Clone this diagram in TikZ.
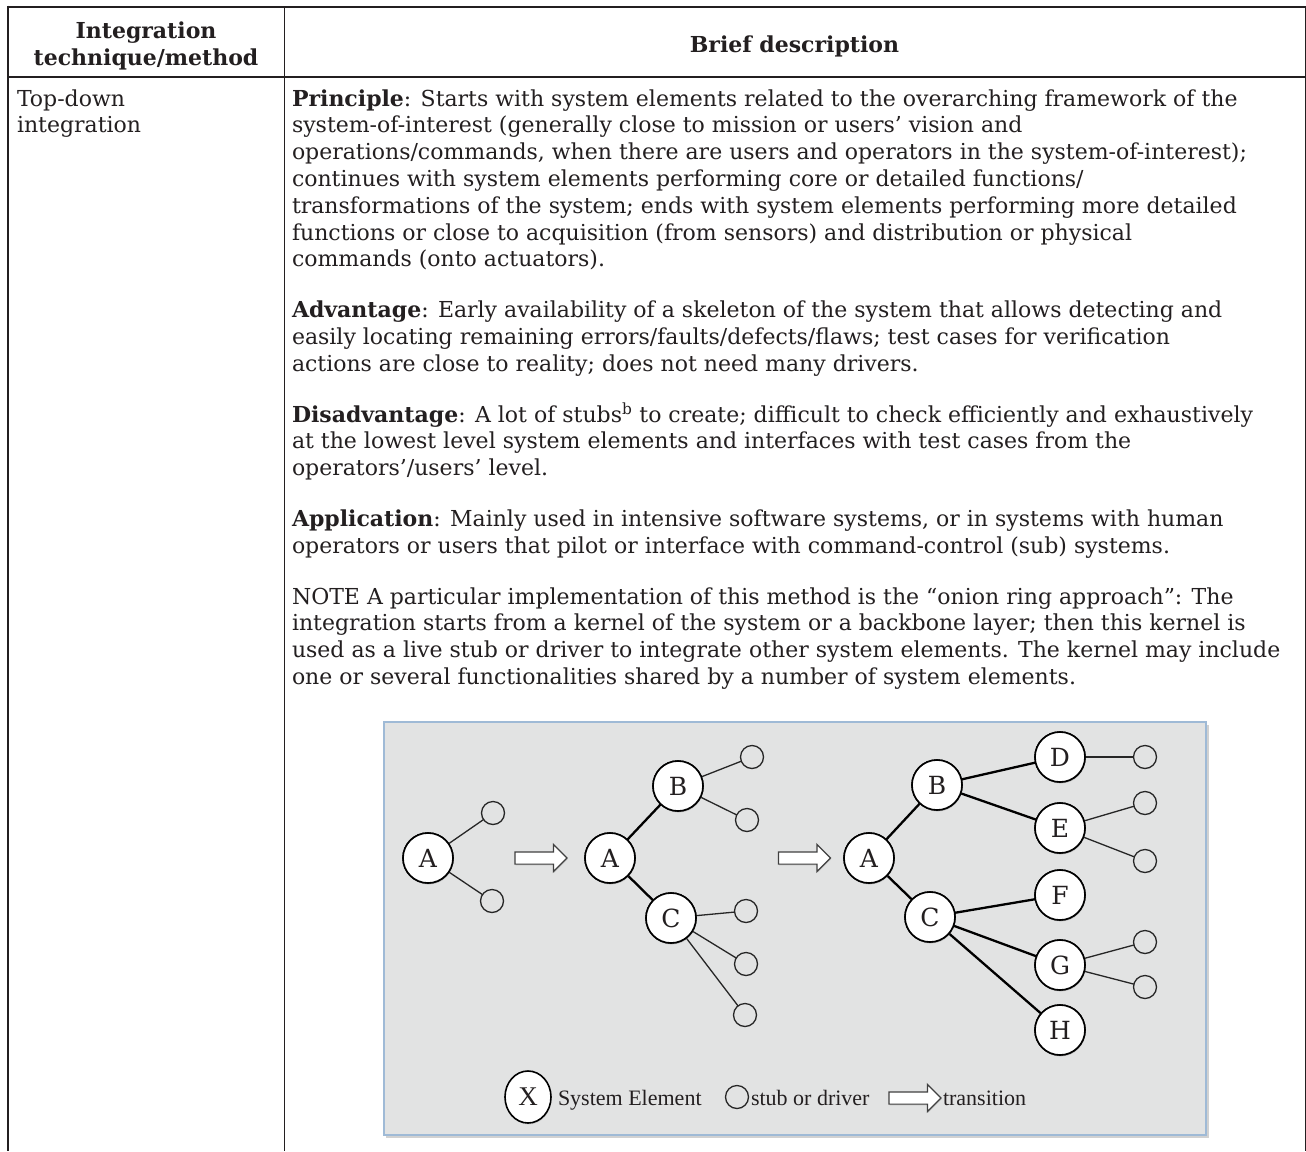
\documentclass[tikz,border=0pt]{standalone}
\usepackage{fontspec}
\setmainfont{DejaVu Serif}
\newfontfamily\lsfont{Liberation Serif}
\usetikzlibrary{shapes.arrows,shapes.geometric,shadows}
\definecolor{txt}{HTML}{231F20}
\definecolor{boxfill}{HTML}{E2E3E3}
\definecolor{boxedge}{HTML}{9FBAD6}
\begin{document}
\begin{tikzpicture}[x=1pt,y=-1pt,
  every node/.style={inner sep=0pt, outer sep=0pt},
  ln/.style={anchor=base west, text=txt, font=\fontsize{22}{26.8}\selectfont},
  hd/.style={anchor=base, text=txt, font=\fontsize{22}{26.8}\selectfont\bfseries},
  se/.style={circle, draw=black, line width=1.6pt, fill=white, minimum size=50pt,
    text=txt, font=\fontsize{25}{25}\selectfont,
    drop shadow={shadow xshift=0.6pt, shadow yshift=-1.4pt, opacity=0.25}},
  stub/.style={circle, draw=black!85, line width=1.3pt, minimum size=23pt},
  tk/.style={line width=2.3pt, draw=black},
  tn/.style={line width=1.3pt, draw=black!85},
  trans/.style={single arrow, draw=black!75, fill=white, line width=1.2pt,
    minimum height=52pt, minimum width=0pt, inner sep=5.5pt,
    single arrow head extend=7.5pt,
    drop shadow={shadow xshift=0.6pt, shadow yshift=-1.2pt, opacity=0.3}},
  lg/.style={anchor=base west, text=txt, font=\lsfont\fontsize{22}{22}\selectfont}
]
\useasboundingbox (0,0) rectangle (1306,1151);
\fill[white] (0,0) rectangle (1306,1151);

% table rules
\draw[txt, line width=2.6pt] (7,7) -- (1306,7);
\draw[txt, line width=2.6pt] (8,77) -- (1306,77);
\draw[txt, line width=2pt] (8.3,5.7) -- (8.3,1151);
\draw[txt, line width=1.3pt] (284.3,7) -- (284.3,1151);
\draw[txt, line width=1.3pt] (1305.3,7) -- (1305.3,1151);

% header
\node[hd] (h1a) at (146,38) {Integration};
\node[hd] (h1b) at (146,65) {technique/method};
\node[hd] (h2) at (794.5,52) {Brief description};

% first column
\node[ln] (c1a) at (17,106) {Top-down};
\node[ln] (c1b) at (17,132.8) {integration};

% Principle
\node[ln] (p1) at (292,106.0) {\textbf{Principle}: Starts with system elements related to the overarching framework of the};
\node[ln] (p2) at (292,132.8) {system-of-interest (generally close to mission or users’ vision and};
\node[ln] (p3) at (292,159.6) {operations/commands, when there are users and operators in the system-of-interest);};
\node[ln] (p4) at (292,186.4) {continues with system elements performing core or detailed functions/};
\node[ln] (p5) at (292,213.2) {transformations of the system; ends with system elements performing more detailed};
\node[ln] (p6) at (292,240.0) {functions or close to acquisition (from sensors) and distribution or physical};
\node[ln] (p7) at (292,266.8) {commands (onto actuators).};
% Advantage
\node[ln] (a1) at (292,317.6) {\textbf{Advantage}: Early availability of a skeleton of the system that allows detecting and};
\node[ln] (a2) at (292,344.4) {easily locating remaining errors/faults/defects/flaws; test cases for verification};
\node[ln] (a3) at (292,371.2) {actions are close to reality; does not need many drivers.};
% Disadvantage
\node[ln] (d1) at (292,422.0) {\textbf{Disadvantage}: A lot of stubs\textsuperscript{b} to create; difficult to check efficiently and exhaustively};
\node[ln] (d2) at (292,448.8) {at the lowest level system elements and interfaces with test cases from the};
\node[ln] (d3) at (292,475.6) {operators’/users’ level.};
% Application
\node[ln] (ap1) at (292,526.4) {\textbf{Application}: Mainly used in intensive software systems, or in systems with human};
\node[ln] (ap2) at (292,553.2) {operators or users that pilot or interface with command-control (sub) systems.};
% NOTE
\node[ln] (n1) at (292,604.0) {NOTE A particular implementation of this method is the “onion ring approach”: The};
\node[ln] (n2) at (292,630.8) {integration starts from a kernel of the system or a backbone layer; then this kernel is};
\node[ln] (n3) at (292,657.6) {used as a live stub or driver to integrate other system elements. The kernel may include};
\node[ln] (n4) at (292,684.4) {one or several functionalities shared by a number of system elements.};

% figure box
\fill[black!18] (386,725) rectangle (1208.5,1138);
\draw[boxedge, line width=2pt, fill=boxfill] (384,722) rectangle (1206,1135);

% stage 1
\node[se] (A1) at (428,858) {A};
\node[stub] (s1a) at (493,813) {};
\node[stub] (s1b) at (492,901) {};
\draw[tn] (A1) -- (s1a);
\draw[tn] (A1) -- (s1b);
\node[trans] (tr1) at (538,858) {};

% stage 2
\node[se] (A2) at (610,858) {A};
\node[se] (B2) at (678,786) {B};
\node[se] (C2) at (671,918) {C};
\node[stub] (s2a) at (752,757) {};
\node[stub] (s2b) at (747,820) {};
\node[stub] (s2c) at (746,911) {};
\node[stub] (s2d) at (746,964) {};
\node[stub] (s2e) at (745,1015) {};
\draw[tk] (A2) -- (B2);
\draw[tk] (A2) -- (C2);
\draw[tn] (B2) -- (s2a);
\draw[tn] (B2) -- (s2b);
\draw[tn] (C2) -- (s2c);
\draw[tn] (C2) -- (s2d);
\draw[tn] (C2) -- (s2e);
\node[trans] (tr2) at (801.5,858) {};

% stage 3
\node[se] (A3) at (869,858) {A};
\node[se] (B3) at (937,785) {B};
\node[se] (C3) at (930,917) {C};
\node[se] (D) at (1060,757) {D};
\node[se] (E) at (1060,828) {E};
\node[se] (F) at (1060,895) {F};
\node[se] (G) at (1060,965) {G};
\node[se] (H) at (1060,1030) {H};
\node[stub] (sD) at (1145,757) {};
\node[stub] (sE1) at (1145,803) {};
\node[stub] (sE2) at (1145,861) {};
\node[stub] (sG1) at (1145,942) {};
\node[stub] (sG2) at (1145,987) {};
\draw[tk] (A3) -- (B3);
\draw[tk] (A3) -- (C3);
\draw[tk] (B3) -- (D);
\draw[tk] (B3) -- (E);
\draw[tk] (C3) -- (F);
\draw[tk] (C3) -- (G);
\draw[tk] (C3) -- (H);
\draw[tn] (D) -- (sD);
\draw[tn] (E) -- (sE1);
\draw[tn] (E) -- (sE2);
\draw[tn] (G) -- (sG1);
\draw[tn] (G) -- (sG2);
% redraw circles above edges
\foreach \n/\x/\y/\l in {A1/428/858/A, A2/610/858/A, B2/678/786/B, C2/671/918/C, A3/869/858/A, B3/937/785/B, C3/930/917/C, D/1060/757/D, E/1060/828/E, F/1060/895/F, G/1060/965/G, H/1060/1030/H}
  \node[se] (\n x) at (\x,\y) {\l};

% legend
\node[ellipse, draw=black, line width=1.6pt, fill=white, minimum width=46pt, minimum height=52pt,
  text=txt, font=\lsfont\fontsize{27}{27}\selectfont,
  drop shadow={shadow xshift=0.6pt, shadow yshift=-1.4pt, opacity=0.25}] (LX) at (528,1097) {X};
\node[lg] (LXt) at (558,1105) {System Element};
\node[stub] (LS) at (737,1097) {};
\node[lg] (LSt) at (751,1105) {stub or driver};
\node[trans] (LT) at (912,1098) {};
\node[lg] (LTt) at (943,1105) {transition};
\end{tikzpicture}
\end{document}
